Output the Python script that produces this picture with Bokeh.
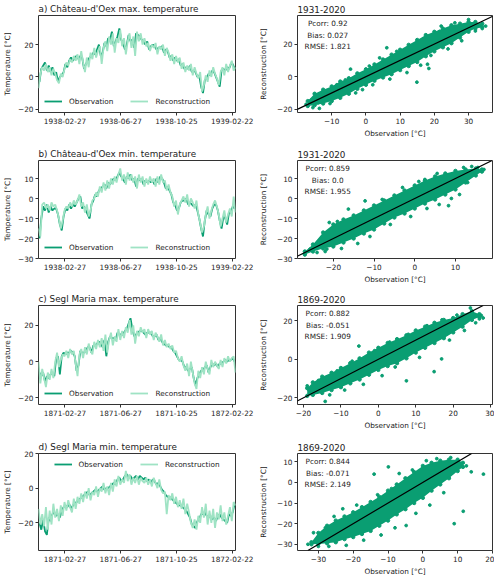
import pandas as pd
from bokeh.plotting import figure
from bokeh.layouts import row, column
from bokeh.models import Range1d, FixedTicker, Legend, LegendItem, Label, Slope
from bokeh.embed import file_html
from bokeh.resources import INLINE

FONT = "DejaVu Sans"
OBS_COLOR = "#0a9e72"
REC_COLOR = "#9fe3c4"
TXT = "#222222"

# ---------------- time series (4-day samples) ----------------
START_CH = "1938-01-01"
START_SM = "1871-01-01"
TICKS_CH = ["1938-02-27", "1938-06-27", "1938-10-25", "1939-02-22"]
TICKS_SM = ["1871-02-27", "1871-06-27", "1871-10-25", "1872-02-22"]

A_REC = [-7, 2, 6, 4, 8, 3, 6, 1, 5, 2,
         -2, -4, 2, 0, 5, 9, 7, 11, 9, 13,
         10, 14, 8, 16, 9, 3, 12, 6, 15, 11,
         18, 12, 16, 19, 8, 18, 22, 16, 25, 20,
         27, 15, 24, 21, 29, 19, 24, 14, 22, 27,
         18, 25, 13, 28, 22, 27, 20, 24, 19, 21,
         16, 20, 18, 21, 14, 19, 17, 20, 13, 18,
         15, 10, 14, 8, 13, 9, 12, 5, 9, 3,
         7, 4, 8, 1, 6, 2, -1, 3, -9, -5,
         1, -3, 4, 0, 6, 2, -1, -5, 3, 6,
         1, 8, 3, 7, 10, 4, 6]
A_OBS = [-3, 5, 7, 9, 4, 7, 3, 6, 1, 3,
         -3, 0, 1, 3, 8, 6, 10, 12, 10, 12,
         13, 11, 13, 12, 5, 8, 10, 12, 13, 15,
         14, 17, 20, 13, 15, 21, 19, 24, 23, 28,
         19, 22, 25, 30, 23, 21, 17, 20, 26, 22,
         23, 18, 27, 26, 25, 23, 22, 20, 22, 17,
         19, 20, 19, 17, 18, 18, 19, 15, 17, 16,
         12, 13, 10, 12, 10, 11, 7, 8, 5, 6,
         5, 7, 3, 4, 3, 0, 1, -6, -10, -2,
         -1, 2, 1, 4, 3, 0, -3, -6, 4, 5,
         4, 6, 5, 8, 8, 5]

B_REC = [-15, -19, -3, -2, -5, -3, -6, -2, -4, -3,
         -6, -10, -15, -11, -6, -4, -5, -2, -4, -1,
         -3, -1, 2, -4, -2, -7, -3, -9, -6, -1,
         0, 3, 1, 6, 3, 8, 4, 9, 5, 10,
         7, 11, 8, 12, 15, 9, 12, 7, 13, 9,
         12, 8, 11, 5, 12, 8, 11, 6, 10, 7,
         11, 8, 10, 6, 11, 7, 12, 8, 9, 4,
         7, 3, 1, -4, -1, -8, -3, -1, 1, -2,
         2, -4, 0, -2, -5, -1, -8, -12, -17, -14,
         -8, -4, -10, -6, -3, -1, -4, -8, -14, -10,
         -6, -12, -8, -5, -9, 1, -7]
B_OBS = [-20, -10, -4, -6, -3, -7, -4, -6, -5, -5,
         -8, -13, -16, -9, -5, -6, -3, -5, -3, -4,
         -2, 0, 1, -5, -4, -6, -8, -10, -3, -1,
         2, 1, 4, 5, 6, 7, 5, 8, 7, 9,
         10, 9, 11, 13, 11, 10, 8, 11, 10, 12,
         9, 10, 6, 10, 9, 10, 7, 9, 8, 9,
         8, 9, 7, 10, 8, 11, 10, 8, 5, 6,
         4, 2, -2, -3, -6, -5, -2, -1, -1, 0,
         -3, -2, -3, -4, -3, -6, -10, -15, -19, -11,
         -6, -8, -9, -5, -3, -3, -6, -11, -15, -9,
         -10, -13, -7, -7, -4, -5]

C_REC = [0, -12, -4, -9, -14, -6, -10, -4, -9, 0,
         5, -3, 1, 4, 3, 6, 2, 7, 4, 6,
         -1, -8, 4, 7, 2, 8, 4, 10, 6, 4,
         11, 7, 12, 8, 13, 6, 15, 5, 12, 16,
         9, 14, 11, 18, 12, 17, 13, 19, 16, 23,
         15, 20, 10, 17, 14, 19, 16, 18, 13, 18,
         15, 17, 12, 16, 14, 11, 15, 9, 12, 8,
         10, 7, 9, 5, 6, 2, 0, 3, -2, -5,
         -1, -8, 0, -6, -12, -15, -5, -9, -3, -7,
         0, -4, -7, 1, -3, 0, -2, -4, 1, -3,
         2, -1, 3, 0, 2, 3, -6]
C_OBS = [-6, -8, -6, -11, -8, -9, -7, -6, -8, 2,
         3, -7, 3, 5, 4, 5, 5, 6, 5, 3,
         -5, -2, 6, 5, 5, 6, 8, 8, 5, 9,
         9, 10, 11, 10, 8, 12, 3, 11, 14, 13,
         13, 12, 16, 15, 15, 15, 17, 18, 21, 24,
         18, 14, 15, 16, 17, 17, 16, 15, 16, 16,
         16, 14, 14, 15, 12, 13, 11, 10, 9, 9,
         8, 8, 6, 5, 3, 1, 1, 0, -3, -3,
         -5, -4, -3, -9, -13, -9, -7, -5, -5, -3,
         -2, -6, -3, -1, -2, -1, -3, -1, -1, 0,
         1, 0, 1, 1, 2, 0]

D_REC = [-12, -21, -15, -22, -11, -24, -13, -21, -9, -17,
         -12, -19, -10, -16, -8, -13, -7, -11, -14, -6,
         -12, -5, -9, -3, -8, -2, -6, 0, -7, -2,
         -4, 1, -5, 0, -2, 3, -3, 1, -4, 3,
         -2, 5, 1, 7, 2, 5, 3, 10, 4, 8,
         2, 6, 3, 7, 2, 6, 4, 3, 6, 2,
         5, 1, 6, 3, 0, 5, -1, -3, -2, -15,
         -4, -7, -3, -9, -5, -11, -7, -12, -6, -15,
         -9, -14, -20, -23, -18, -24, -16, -20, -11, -17,
         -9, -21, -13, -20, -12, -23, -14, -18, -10, -19,
         -14, -21, -16, -11, -19, -8, -10]
D_OBS = [-20, -24, -18, -25, -27, -17, -19, -15, -14, -16,
         -15, -17, -13, -11, -10, -11, -9, -12, -10, -9,
         -8, -7, -6, -5, -4, -3, -2, -4, -3, -2,
         -1, -2, -1, 0, 1, -1, 0, 0, 1, 2,
         3, 2, 5, 6, 4, 5, 7, 8, 6, 7,
         5, 6, 7, 5, 7, 6, 5, 6, 4, 5,
         3, 5, 4, 2, 3, 1, -1, -2, -4, -5,
         -5, -6, -7, -8, -9, -10, -10, -11, -12, -13,
         -15, -17, -21, -22, -23, -19, -18, -15, -15, -14,
         -16, -17, -16, -18, -17, -19, -16, -15, -17, -18,
         -19, -20, -15, -16, -14, -9]

# ---------------- scatter clouds: dense band + sparse points ----------------
SA_X = [-17, -15, -12.5, -10, -7.5, -5, -2.5, 0, 2.5, 5, 7.5, 10, 12.5, 15, 17.5, 20, 22.5, 25, 27.5, 30, 32, 34]
SA_HI = [-15, -10.5, -8, -6, -3, -1, 2, 4.5, 7.5, 10.5, 13.5, 16.5, 19.5, 22.5, 25.5, 27.5, 29.5, 31.5, 32.5, 33.5, 33.5, 32.5]
SA_LO = [-18, -17.5, -16.5, -15, -13, -10.5, -7.5, -5, -2.5, -0.5, 1.5, 4, 6.5, 9, 12.5, 15.5, 18, 20.5, 24, 27.5, 29.5, 30.5]
SA_PX = [-17.5, -16, -15.5, -14, -13.6, -12, -11, -10.5, -8.5, -7.2, -6, -4.5, -3, -1, 1, 2, 4, 6.1, 7, 9,
         12, 13.4, 14.9, 16, 18, 18.4, 19, 21.5, 22, 24, 26, 28, 30, 32, 33, 34, 35]
SA_PY = [-17, -14.5, -19, -16, -19.5, -11, -9.5, -16.5, -5, -8, -2, 4.6, -10, -8, 6.5, -5, 11.5, 17.7, -1.5, 15.5,
         2.5, 15.7, -3.4, 7, 7.6, 5, 13, 27.7, 31, 17, 33, 22, 35, 28, 31, 29.5, 31]

SB_X = [-27, -25, -22.5, -20, -17.5, -15, -12.5, -10, -7.5, -5, -2.5, 0, 2.5, 5, 7.5, 10, 12.5, 15, 16.5]
SB_HI = [-26.5, -23, -17, -13, -10.5, -8.5, -6, -3.5, -1, 1.5, 4, 6.5, 9, 11, 12.5, 13.8, 14.5, 15, 14.5]
SB_LO = [-28, -26.5, -25, -24, -22, -20, -17.5, -15.5, -12.5, -9.5, -7.5, -5, -2.5, -0.5, 2, 4.5, 8, 11.5, 13.5]
SB_PX = [-27, -25.7, -24, -22, -21.6, -21, -19, -18, -16.3, -14, -12.2, -11, -8, -6, -3, -1, 1, 2.5, 3, 5.5,
         6, 8.3, 9, 11, 12, 13, 14, 15.5, 16.5, 17]
SB_PY = [-28, -25.3, -27, -26.5, -25.3, -12, -11.5, -25, -5.3, -22.5, -1.2, -19, -0.5, -13, 5.5, -9, 8.5, 9.5, -5, 12.5,
         -3, -3.6, 0, 2, 15.5, 8, 16, 15.5, 13.5, 14.5]

SC_X = [-19, -17.5, -15, -12.5, -10, -7.5, -5, -2.5, 0, 2.5, 5, 7.5, 10, 12.5, 15, 17.5, 20, 22.5, 25, 27]
SC_HI = [-15, -12, -9, -7, -4.5, -2, 0.5, 3.5, 6, 8.5, 10.5, 12.5, 15, 17, 19, 20.5, 21.5, 23.5, 25, 23.5]
SC_LO = [-19, -18.5, -17.5, -16, -14.5, -12.5, -10.5, -8, -5.5, -3.5, -2, 0.5, 3.5, 6, 8.5, 11, 14, 17, 20.5, 22]
SC_PX = [-19, -18.5, -17.9, -16, -14.2, -13, -11, -9, -7, -5.2, -4, -1, 1, 3, 4.5, 7.5, 8, 11, 13, 14.9,
         16.9, 17, 19, 21, 23, 24.6, 26, 27, 27.5, 28]
SC_PY = [-13.8, -16, -17.9, -11, -21.9, -18.5, -6, -16, -1, 6.9, -13, 4.5, -8.5, 9, -4, -11.2, 13, 1, 17.5, -6.4,
         0.2, 20.5, 10, 23, 15, 26.7, 19, 21, 22.8, 21.5]

SD_X = [-32, -30, -27.5, -25, -22.5, -20, -17.5, -15, -12.5, -10, -7.5, -5, -2.5, 0, 2.5, 5, 7.5, 10, 11.5]
SD_HI = [-29, -24.5, -21, -18.5, -16.5, -14.5, -12, -9.5, -7, -4, -1, 2, 5, 8, 9.5, 10.5, 11, 11, 9.5]
SD_LO = [-30, -29.8, -29.5, -29, -27.5, -26.5, -25, -23.5, -21, -18.5, -15.5, -13, -10, -7.5, -4, -1, 2, 5.5, 7.5]
SD_PX = [-33, -31.4, -30, -28, -27, -25.5, -23, -22, -19, -17, -14, -13, -12, -9.9, -9, -8, -6.8, -4.8, -3, -2,
         1, 2, 4, 6, 8, 9, 11.6, 12.5, 13.9, 17.4]
SD_PY = [-30, -24.4, -31, -22, -31, -16.5, -12.8, -30.5, -11, -28, 4, -6, -25.5, 7.5, -3, -22, 4.3, -20.9, 6, -15,
         10.5, -11, 11.5, -5, 12, -20, -14, 8, 5.1, 4]


def minus(v):
    s = str(int(v)) if float(v).is_integer() else str(v)
    return s.replace("-", "\u2212")


def style(p, title, standoff):
    p.title.text = title
    p.title.text_font = FONT
    p.title.text_font_size = "8.8px"
    p.title.text_font_style = "normal"
    p.title.text_color = TXT
    p.title.align = "left"
    p.title.standoff = standoff
    p.outline_line_color = "#333333"
    p.outline_line_width = 1
    p.background_fill_color = "white"
    p.border_fill_color = "white"
    p.grid.visible = False
    for ax in (p.xaxis[0], p.yaxis[0]):
        ax.axis_line_color = None
        ax.major_tick_line_color = "#333333"
        ax.major_tick_out = 3
        ax.major_tick_in = 0
        ax.minor_tick_line_color = None
        ax.major_label_text_font = FONT
        ax.major_label_text_font_size = "7.3px"
        ax.major_label_text_color = TXT
        ax.major_label_standoff = 2
        ax.axis_label_text_font = FONT
        ax.axis_label_text_font_size = "7.3px"
        ax.axis_label_text_font_style = "normal"
        ax.axis_label_text_color = TXT
        ax.axis_label_standoff = 3


def time_panel(title, start, rec, obs, tick_labels, ylim, yticks, legend_top, fh, top, bottom):
    t0 = pd.Timestamp(start)
    rec_x = pd.date_range(t0, periods=len(rec), freq="4D")
    obs_x = pd.date_range(t0 + pd.Timedelta(days=2), periods=len(obs), freq="4D")
    p = figure(frame_width=197, frame_height=fh, x_axis_type="datetime",
               x_range=Range1d(rec_x[0], rec_x[-1]), y_range=Range1d(*ylim),
               output_backend="svg", toolbar_location=None,
               min_border_left=32, min_border_right=21, min_border_top=top, min_border_bottom=bottom)
    style(p, title, 3)
    r_obs = p.line(obs_x, obs, line_color=OBS_COLOR, line_width=1.8)
    r_rec = p.line(rec_x, rec, line_color=REC_COLOR, line_width=1.8)
    tick_ms = [pd.Timestamp(t).value / 1e6 for t in tick_labels]
    p.xaxis.ticker = FixedTicker(ticks=tick_ms)
    p.xaxis.major_label_overrides = {ms: lab for ms, lab in zip(tick_ms, tick_labels)}
    p.yaxis.ticker = FixedTicker(ticks=yticks)
    p.yaxis.major_label_overrides = {t: minus(t) for t in yticks}
    p.yaxis.axis_label = "Temperature [\u00b0C]"
    leg = Legend(items=[LegendItem(label="Observation", renderers=[r_obs]),
                        LegendItem(label="Reconstruction", renderers=[r_rec])],
                 orientation="horizontal", location="top_center" if legend_top else "bottom_left",
                 background_fill_alpha=0, border_line_alpha=0,
                 label_text_font=FONT, label_text_font_size="7.3px", label_text_color=TXT,
                 glyph_width=18, glyph_height=10, label_standoff=7, spacing=17,
                 padding=0, margin=6, label_height=10)
    p.add_layout(leg, "center")
    return p


def scatter_panel(title, bx, blo, bhi, px, py, xlim, ylim, xticks, yticks, stats, fh, top, bottom):
    p = figure(frame_width=195, frame_height=fh, x_range=Range1d(*xlim), y_range=Range1d(*ylim),
               output_backend="svg", toolbar_location=None,
               min_border_left=37, min_border_right=2, min_border_top=top, min_border_bottom=bottom)
    style(p, title, 5)
    p.varea(x=bx, y1=blo, y2=bhi, fill_color=OBS_COLOR, fill_alpha=1)
    p.scatter(bx, blo, size=3.4, color=OBS_COLOR)
    p.scatter(bx, bhi, size=3.4, color=OBS_COLOR)
    p.scatter(px, py, size=2.8, color=OBS_COLOR)
    p.add_layout(Slope(gradient=1, y_intercept=0, line_color="black", line_width=1.2))
    p.xaxis.ticker = FixedTicker(ticks=xticks)
    p.xaxis.major_label_overrides = {t: minus(t) for t in xticks}
    p.yaxis.ticker = FixedTicker(ticks=yticks)
    p.yaxis.major_label_overrides = {t: minus(t) for t in yticks}
    p.xaxis.axis_label = "Observation [\u00b0C]"
    p.yaxis.axis_label = "Reconstruction [\u00b0C]"
    p.xaxis.axis_label_standoff = 2
    p.yaxis.axis_label_standoff = 6
    lx = xlim[0] + 0.155 * (xlim[1] - xlim[0])
    ly = ylim[1] - 0.035 * (ylim[1] - ylim[0])
    p.add_layout(Label(x=lx, y=ly, text="\n".join(stats), text_align="center", text_baseline="top",
                       text_font=FONT, text_font_size="7.3px", text_color=TXT, text_line_height=1.3))
    return p


FH = [97, 98, 99, 97]
TOPS = [12, 19, 19, 19]
BOTS = [29, 28, 30, 25]

la = time_panel("a) Ch\u00e2teau-d'Oex max. temperature", START_CH, A_REC, A_OBS, TICKS_CH,
                (-22, 38), [-20, 0, 20], False, FH[0], TOPS[0], BOTS[0])
ra = scatter_panel("1931-2020", SA_X, SA_LO, SA_HI, SA_PX, SA_PY, (-20, 37), (-22, 37.5),
                   [-10, 0, 10, 20, 30], [-20, 0, 20], ["Pcorr: 0.92", "Bias: 0.027", "RMSE: 1.821"],
                   FH[0], TOPS[0], BOTS[0])
lb = time_panel("b) Ch\u00e2teau-d'Oex min. temperature", START_CH, B_REC, B_OBS, TICKS_CH,
                (-30, 19), [-30, -20, -10, 0, 10], False, FH[1], TOPS[1], BOTS[1])
rb = scatter_panel("1931-2020", SB_X, SB_LO, SB_HI, SB_PX, SB_PY, (-28.8, 19.1), (-30, 19),
                   [-20, -10, 0, 10], [-30, -20, -10, 0, 10], ["Pcorr: 0.859", "Bias: 0.0", "RMSE: 1.955"],
                   FH[1], TOPS[1], BOTS[1])
lc = time_panel("c) Segl Maria max. temperature", START_SM, C_REC, C_OBS, TICKS_SM,
                (-23.6, 31), [-20, 0, 20], False, FH[2], TOPS[2], BOTS[2])
rc = scatter_panel("1869-2020", SC_X, SC_LO, SC_HI, SC_PX, SC_PY, (-21.6, 30.5), (-23.5, 28),
                   [-20, -10, 0, 10, 20, 30], [-20, 0, 20], ["Pcorr: 0.882", "Bias: -0.051", "RMSE: 1.909"],
                   FH[2], TOPS[2], BOTS[2])
ld = time_panel("d) Segl Maria min. temperature", START_SM, D_REC, D_OBS, TICKS_SM,
                (-36, 20), [-20, 0, 20], True, FH[3], TOPS[3], BOTS[3])
rd = scatter_panel("1869-2020", SD_X, SD_LO, SD_HI, SD_PX, SD_PY, (-36, 20), (-33, 14),
                   [-30, -20, -10, 0, 10, 20], [-30, -20, -10, 0, 10], ["Pcorr: 0.844", "Bias: -0.071", "RMSE: 2.149"],
                   FH[3], TOPS[3], BOTS[3])

layout = column(row(la, ra), row(lb, rb), row(lc, rc), row(ld, rd))
open("out.html", "w").write(file_html(layout, INLINE))
